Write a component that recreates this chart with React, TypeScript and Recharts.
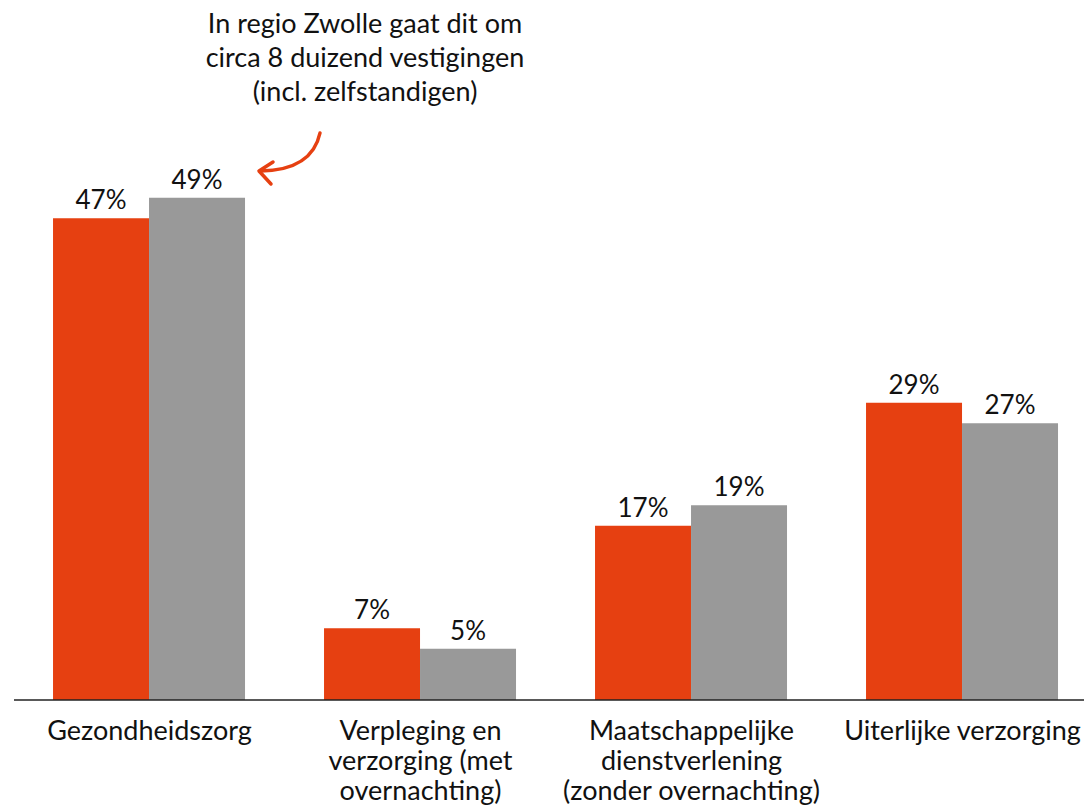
import { BarChart, Bar, XAxis, YAxis, LabelList } from "recharts";

const categories = [
  "Gezondheidszorg",
  "Verpleging en\nverzorging (met\novernachting)",
  "Maatschappelijke\ndienstverlening\n(zonder overnachting)",
  "Uiterlijke verzorging",
];
const zwolle = [47, 7, 17, 29];
const nederland = [49, 5, 19, 27];
const noteLines = [
  "In regio Zwolle gaat dit om",
  "circa 8 duizend vestigingen",
  "(incl. zelfstandigen)",
];

const ORANGE = "#E64011";
const GREY = "#999999";
const FONT = "Lato, 'Open Sans', sans-serif";

const data = categories.map((name, i) => ({
  name,
  zwolle: zwolle[i],
  nederland: nederland[i],
}));

function Tick(props: any) {
  const { x, y, payload } = props;
  const lines = String(payload.value).split("\n");
  return (
    <text x={x} y={y} textAnchor="middle" fontSize={27} fill="#111" fontFamily={FONT}>
      {lines.map((l, i) => (
        <tspan key={i} x={x} dy={i === 0 ? 32 : 30}>
          {l}
        </tspan>
      ))}
    </text>
  );
}

export default function App() {
  return (
    <div style={{ position: "absolute", left: 0, top: 0, width: 1084, height: 805, overflow: "hidden", background: "#fff" }}>
      <BarChart
        width={1098}
        height={805}
        data={data}
        margin={{ top: 85, right: 0, bottom: 5, left: 14 }}
        barCategoryGap="14.4%"
        barGap={0}
      >
        <XAxis
          dataKey="name"
          tick={<Tick />}
          tickLine={false}
          axisLine={{ stroke: "#222", strokeWidth: 1.5 }}
          height={100}
          interval={0}
        />
        <YAxis hide domain={[0, 60]} />
        <Bar dataKey="zwolle" fill={ORANGE} isAnimationActive={false}>
          <LabelList
            dataKey="zwolle"
            position="top"
            offset={9}
            formatter={(v: any) => `${v}%`}
            style={{ fontSize: 26, fill: "#111", fontFamily: FONT }}
          />
        </Bar>
        <Bar dataKey="nederland" fill={GREY} isAnimationActive={false}>
          <LabelList
            dataKey="nederland"
            position="top"
            offset={9}
            formatter={(v: any) => `${v}%`}
            style={{ fontSize: 26, fill: "#111", fontFamily: FONT }}
          />
        </Bar>
      </BarChart>
      <svg
        width={1084}
        height={805}
        style={{ position: "absolute", left: 0, top: 0, pointerEvents: "none" }}
      >
        <text x={365} y={33} textAnchor="middle" fontSize={27} fill="#111" fontFamily={FONT}>
          {noteLines.map((l, i) => (
            <tspan key={i} x={365} dy={i === 0 ? 0 : 34}>
              {l}
            </tspan>
          ))}
        </text>
        <path d="M320,133 Q312,170 261,171" fill="none" stroke={ORANGE} strokeWidth={3.5} strokeLinecap="round" />
        <path d="M273,162 L259,171 L271,184" fill="none" stroke={ORANGE} strokeWidth={3.5} strokeLinecap="round" strokeLinejoin="round" />
      </svg>
    </div>
  );
}
